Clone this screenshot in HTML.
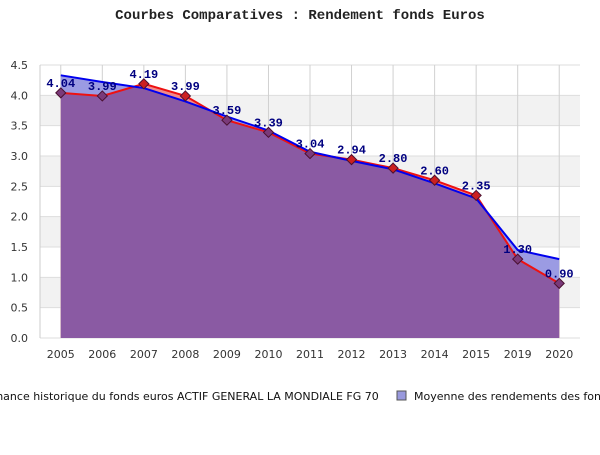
<!DOCTYPE html>
<html><head><meta charset="utf-8"><style>
body{margin:0;background:#fff;width:600px;height:450px;overflow:hidden}
text{font-family:"DejaVu Sans","Liberation Sans",sans-serif}
</style></head><body>
<svg id="c" width="600" height="450">
<text x="300" y="19" text-anchor="middle" style="font-family:'Liberation Mono',monospace;font-weight:bold;font-size:14px" fill="#222">Courbes Comparatives : Rendement fonds Euros</text>
<g id="plot"></g>
<g>
<text x="-40" y="400" font-size="11" fill="#111">Performance historique du fonds euros ACTIF GENERAL LA MONDIALE FG 70</text>
<rect x="397" y="391" width="9" height="9" fill="#9999dd" stroke="#555"/>
<text x="414" y="400" font-size="11" fill="#111">Moyenne des rendements des fonds euros</text>
</g>
</svg>
<script>
const years=["2005","2006","2007","2008","2009","2010","2011","2012","2013","2014","2015","2019","2020"];
const fund=[4.04,3.99,4.19,3.99,3.59,3.39,3.04,2.94,2.80,2.60,2.35,1.30,0.90];
const avg=[4.33,4.22,4.12,3.90,3.65,3.42,3.07,2.92,2.78,2.55,2.30,1.45,1.30];
const yTicks=[0,0.5,1,1.5,2,2.5,3,3.5,4,4.5];
const L=40,R=580,T=65,B=338,ymax=4.5;
const bw=(R-L)/years.length;
const X=i=>L+bw/2+i*bw, Y=v=>B-(v/ymax)*(B-T);
const NS="http://www.w3.org/2000/svg";
const g=document.getElementById('plot');
function el(t,a,p){const e=document.createElementNS(NS,t);for(const k in a)e.setAttribute(k,a[k]);(p||g).appendChild(e);return e;}
// bands
for(let i=0;i<yTicks.length-1;i++){
 if(i%2===1){const b=el('rect',{x:L,y:Y(yTicks[i+1]),width:R-L,height:Y(yTicks[i])-Y(yTicks[i+1]),fill:'#f2f2f2'});
 
 }
}
yTicks.forEach(v=>{
 const l=el('line',{x1:L,x2:R,y1:Y(v),y2:Y(v),stroke:'#dddddd'});
 
 
 const t=el('text',{x:L-12,y:Y(v)+4,'text-anchor':'end','font-size':'11',fill:'#333'});
 t.textContent=v.toFixed(1);
 
 
});
years.forEach((y,i)=>{
 const l=el('line',{x1:X(i),x2:X(i),y1:T,y2:B,stroke:'#d0d0d0'});
 
 
 const t=el('text',{x:X(i),y:B+20,'text-anchor':'middle','font-size':'11',fill:'#333'});
 t.textContent=y;
 
 
});
const ax=el('line',{x1:L,x2:L,y1:T,y2:B,stroke:'#ccc'});


function areaD(s){let d='M'+X(0)+','+B;s.forEach((v,i)=>d+=' L'+X(i)+','+Y(v));return d+' L'+X(s.length-1)+','+B+' Z';}
function lineD(s){return s.map((v,i)=>(i?'L':'M')+X(i)+','+Y(v)).join(' ');}
const defs=el('defs',{});
const cp=el('clipPath',{id:'avgclip'},defs);
el('path',{d:areaD(avg)},cp);
const a1=el('path',{d:areaD(avg),fill:'#9b9be3'});


const a2=el('path',{d:areaD(fund),fill:'#f08a8a'});


const a3=el('path',{d:areaD(fund),fill:'#8a5aa3','clip-path':'url(#avgclip)'});


const l1=el('path',{d:lineD(fund),fill:'none',stroke:'#ee1111','stroke-width':2});


const l2=el('path',{d:lineD(avg),fill:'none',stroke:'#0000ee','stroke-width':2});


fund.forEach((v,i)=>{
 const x=X(i),y=Y(v);
 const below=v<avg[i];
 const m=el('path',{d:`M${x},${y-5} L${x+5},${y} L${x},${y+5} L${x-5},${y} Z`,fill:below?'#7a3a7a':'#cc2020',stroke:'#4a1030','stroke-width':1});
 
 
 const t=el('text',{x:x,y:y-6,'text-anchor':'middle',style:"font-family:'Liberation Mono',monospace;font-weight:bold;font-size:12px",fill:'#000080'});
 t.textContent=v.toFixed(2);
 
 
});
</script>
</body></html>
